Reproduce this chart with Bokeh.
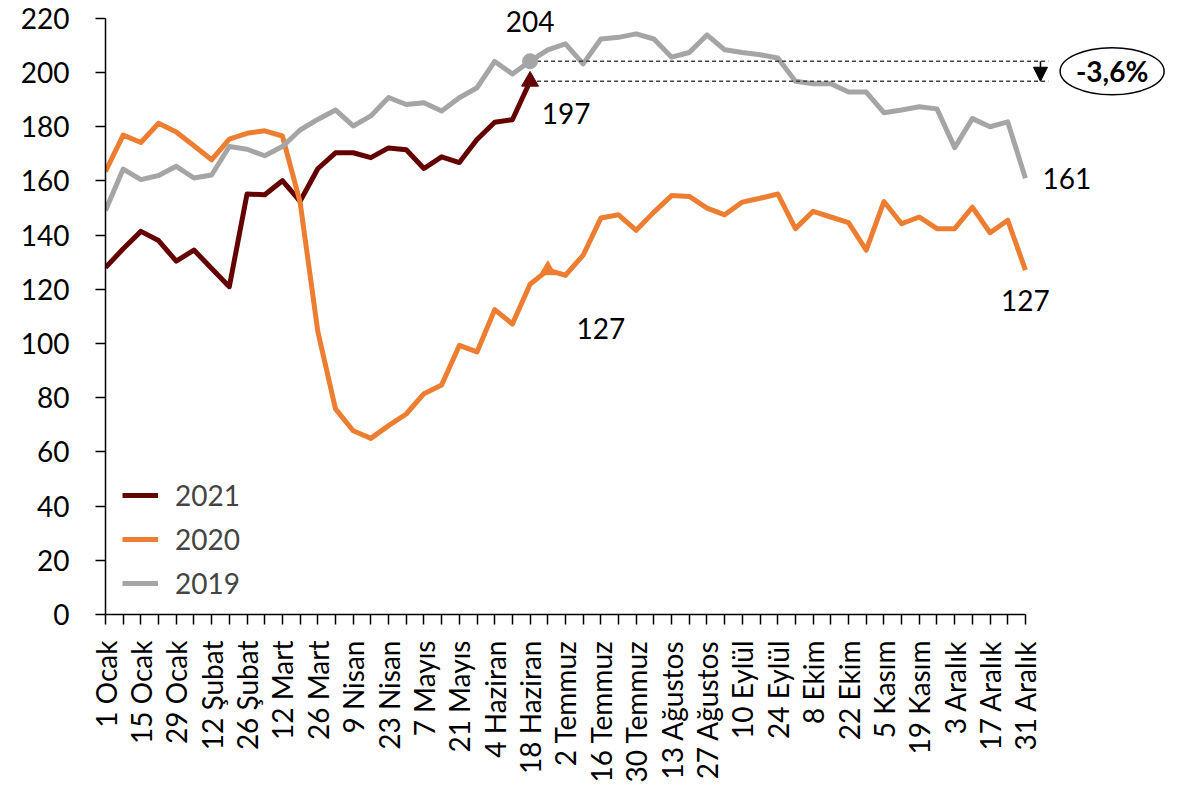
import math
from bokeh.plotting import figure
from bokeh.models import Range1d, FixedTicker, Legend, LegendItem, Arrow, NormalHead
from bokeh.core.properties import value
from bokeh.embed import file_html
from bokeh.resources import INLINE

FONT = "Lato"

tick_labels = ["1 Ocak", "15 Ocak", "29 Ocak", "12 Şubat", "26 Şubat", "12 Mart", "26 Mart",
               "9 Nisan", "23 Nisan", "7 Mayıs", "21 Mayıs", "4 Haziran", "18 Haziran",
               "2 Temmuz", "16 Temmuz", "30 Temmuz", "13 Ağustos", "27 Ağustos", "10 Eylül",
               "24 Eylül", "8 Ekim", "22 Ekim", "5 Kasım", "19 Kasım", "3 Aralık",
               "17 Aralık", "31 Aralık"]

y2021 = [128, 135, 141.4, 138, 130.4, 134.5, 127.7, 121, 155.2, 154.9, 160.1, 152.5, 164.5,
         170.4, 170.4, 168.6, 172.2, 171.5, 164.6, 168.9, 166.8, 175.3, 181.7, 182.6, 196.8]

y2020 = [163.5, 176.9, 174.2, 181.3, 178.1, 173, 167.8, 175.4, 177.6, 178.5, 176.6, 152.2,
         104.5, 75.9, 67.8, 65, 69.7, 74, 81.5, 84.7, 99.3, 96.9, 112.5, 107.2, 121.9, 127.1,
         125.2, 132.6, 146.3, 147.5, 141.8, 148.5, 154.6, 154.3, 150, 147.5, 152.2, 153.6,
         155.2, 142.4, 148.8, 146.7, 144.6, 134.5, 152.4, 144.2, 146.7, 142.4, 142.4, 150.3,
         140.9, 145.5, 127.1]

y2019 = [149.1, 164.4, 160.5, 162, 165.4, 161.1, 162.2, 172.7, 171.7, 169.3, 172.7, 178.8,
         182.7, 186.2, 180.3, 184, 190.8, 188.2, 188.9, 185.8, 190.7, 194.4, 204.1, 199.5,
         204.2, 208.4, 210.6, 203.2, 212.4, 213, 214.3, 212.4, 205.7, 207.4, 213.9, 208.4,
         207.4, 206.6, 205.4, 196.8, 195.9, 195.9, 192.8, 192.8, 185.2, 186.2, 187.4, 186.6,
         172.3, 183, 180, 181.8, 161]

C21, C20, C19 = "#640000", "#ED7D31", "#A5A5A5"

n = len(y2019)
x_all = list(range(n))
x21 = list(range(len(y2021)))
last = len(y2021) - 1          # last 2021 week
mark20 = last + 1              # marker on 2020 line

p = figure(width=1180, height=785, output_backend="svg", toolbar_location=None,
           x_range=Range1d(0, 60.2), y_range=Range1d(0, 226.6),
           min_border_left=105, min_border_right=10, min_border_top=0, min_border_bottom=171)
p.outline_line_color = None
p.grid.visible = False

# axes
xa = p.xaxis[0]
xa.ticker = FixedTicker(ticks=list(range(0, n, 2)), minor_ticks=list(range(1, n, 2)))
xa.major_label_overrides = {2 * i: lab for i, lab in enumerate(tick_labels)}
xa.major_label_orientation = math.pi / 2
xa.bounds = (0, n - 1)
xa.major_tick_out = 10
xa.major_tick_in = 0
xa.minor_tick_out = 10
xa.minor_tick_in = 0
xa.minor_tick_line_color = "black"
xa.minor_tick_line_width = 1.5
xa.major_tick_line_width = 1.5
xa.axis_line_width = 1.5
xa.major_label_standoff = 16
xa.major_label_text_font = FONT
xa.major_label_text_font_size = "28px"
xa.major_label_text_color = "black"

ya = p.yaxis[0]
ya.ticker = FixedTicker(ticks=list(range(0, 221, 20)))
ya.bounds = (0, 220)
ya.major_tick_out = 10
ya.major_tick_in = 0
ya.minor_tick_line_color = None
ya.major_tick_line_width = 1.5
ya.axis_line_width = 1.5
ya.major_label_standoff = 26
ya.major_label_text_font = FONT
ya.major_label_text_font_size = "28px"
ya.major_label_text_color = "black"

# lines
r21 = p.line(x21, y2021, line_color=C21, line_width=5, line_join="round")
r20 = p.line(x_all, y2020, line_color=C20, line_width=5, line_join="round")
r19 = p.line(x_all, y2019, line_color=C19, line_width=5, line_join="round")

# dashed reference lines
dash_end = 53.3
p.segment(x0=[last, last], y0=[y2019[last], y2021[last]], x1=[dash_end, dash_end],
          y1=[y2019[last], y2021[last]], line_color="#404040", line_width=1.5, line_dash="4 3")

# arrow
arrow_x = 52.85
p.add_layout(Arrow(end=NormalHead(size=14, fill_color="black", line_color="black"),
                   x_start=arrow_x, y_start=y2019[last], x_end=arrow_x, y_end=y2021[last],
                   line_color="black", line_width=1.5))

# markers
p.scatter([last], [y2019[last]], marker="circle", size=15, color=C19)
p.scatter([last], [y2021[last]], marker="triangle", size=17, color=C21)
p.scatter([mark20], [y2020[mark20]], marker="triangle", size=16, color=C20)

# value labels
def lab(x, y, txt, xo, yo, align="center", bold=False):
    p.text(x=[x], y=[y], text=[txt], x_offset=xo, y_offset=yo, text_align=align,
           text_baseline="middle", text_font=value(FONT), text_font_size="28px",
           text_color="black", text_font_style="bold" if bold else "normal")

lab(last, y2019[last], f"{round(y2019[last])}", 0, -40)
lab(last, y2021[last], f"{round(y2021[last])}", 36, 32)
lab(n - 1, y2019[-1], f"{round(y2019[-1])}", 17, 0, align="left")
lab(n - 1, y2020[-1], f"{round(y2020[-1])}", 0, 30)
lab(mark20, y2020[mark20], f"{round(y2020[mark20])}", 53, 58)

# percentage bubble
pct = (y2021[last] / y2019[last] - 1) * 100
pct_txt = f"{pct:.1f}".replace(".", ",") + "%"
ex, ey = 56.9, (y2019[last] + y2021[last]) / 2
p.ellipse(x=[ex], y=[ey], width=104, height=47, width_units="screen", height_units="screen",
          fill_color="white", line_color="black", line_width=1.5)
lab(ex, ey, pct_txt, 0, 0, bold=True)

legend = Legend(items=[LegendItem(label="2021", renderers=[r21]),
                       LegendItem(label="2020", renderers=[r20]),
                       LegendItem(label="2019", renderers=[r19])],
                location=(17, 11), glyph_width=36, glyph_height=40, spacing=4,
                padding=0, margin=0, label_standoff=17, label_text_font=FONT,
                label_text_font_size="28px", border_line_color=None,
                background_fill_alpha=0)
p.add_layout(legend)

with open("out.html", "w", encoding="utf-8") as f:
    f.write(file_html(p, INLINE))
